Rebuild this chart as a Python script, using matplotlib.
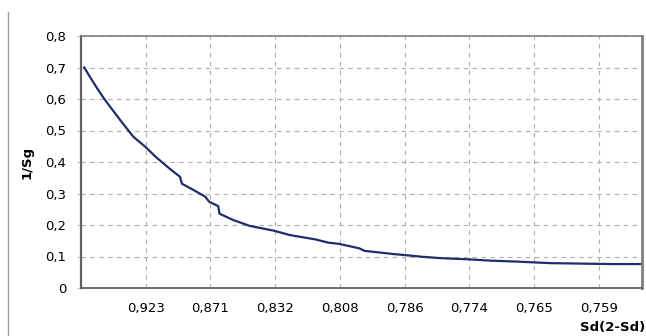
import matplotlib
matplotlib.use("Agg")
import matplotlib.pyplot as plt
from matplotlib.lines import Line2D

plt.rcParams["font.family"] = ["DejaVu Sans"]

# category labels of Sd(2-Sd), one per gridline
sd_labels = ["0,923", "0,871", "0,832", "0,808", "0,786", "0,774", "0,765", "0,759"]
x_max = 8.67  # axis length in label intervals

# curve position along the category axis (label intervals) and 1/Sg
pos = [0.05, 0.13, 0.24, 0.35, 0.47, 0.64, 0.81, 0.99, 1.13, 1.27, 1.40, 1.53,
       1.56, 1.74, 1.92, 1.98, 2.12, 2.14, 2.35, 2.61, 2.98, 3.23, 3.63, 3.82,
       3.99, 4.30, 4.38, 4.82, 4.98, 5.28, 5.54, 5.99, 6.31, 6.72, 7.24, 8.19, 8.67]
inv_sg = [0.700, 0.673, 0.637, 0.603, 0.570, 0.524, 0.480, 0.449, 0.421, 0.396,
          0.374, 0.353, 0.331, 0.311, 0.290, 0.274, 0.260, 0.236, 0.216, 0.197,
          0.182, 0.168, 0.154, 0.144, 0.140, 0.126, 0.118, 0.108, 0.105, 0.099,
          0.095, 0.091, 0.087, 0.084, 0.079, 0.076, 0.076]

fig = plt.figure(figsize=(6.46, 3.36), dpi=100)
ax = fig.add_axes([81 / 646, 1 - 288 / 336, 561 / 646, 252 / 336])

ax.plot(pos, inv_sg, color="#1f2d6b", lw=1.6, solid_joinstyle="round")

ax.set_xlim(0, x_max)
ax.set_ylim(0, 0.8)
ax.set_yticks([i / 10 for i in range(9)])
ax.set_yticklabels(["0"] + [f"0,{i}" for i in range(1, 9)])
ax.set_xticks(range(1, len(sd_labels) + 1))
ax.set_xticklabels(sd_labels)

ax.grid(True, color="#b0b0b0", lw=0.8, linestyle=(0, (4, 4)))
ax.tick_params(axis="both", labelsize=9.5, colors="#c0c0c0", labelcolor="black",
               length=3, width=0.8)
ax.tick_params(axis="x", pad=10, length=0)
ax.tick_params(axis="y", pad=7.5)

for side in ("top", "right"):
    ax.spines[side].set_color("#808080")
ax.spines["top"].set_linewidth(1.2)
ax.spines["right"].set_linewidth(2.0)
ax.spines["left"].set_color("#606060")
ax.spines["left"].set_linewidth(1.6)
ax.spines["bottom"].set_color("#606060")
ax.spines["bottom"].set_linewidth(1.3)

fig.text(27 / 646, 1 - 162 / 336, "1/Sg", rotation=90, ha="center", va="center",
         fontsize=9.5, fontweight="bold")
fig.text(645 / 646, 1 - 328 / 336, "Sd(2-Sd)", ha="right", va="center",
         fontsize=9.5, fontweight="bold")

# chart area border on the left
fig.add_artist(Line2D([7.5 / 646, 7.5 / 646], [0, 1 - 12 / 336],
                      transform=fig.transFigure, color="#a0a0a0", lw=1.0))

fig.savefig("out.png", dpi=100)
